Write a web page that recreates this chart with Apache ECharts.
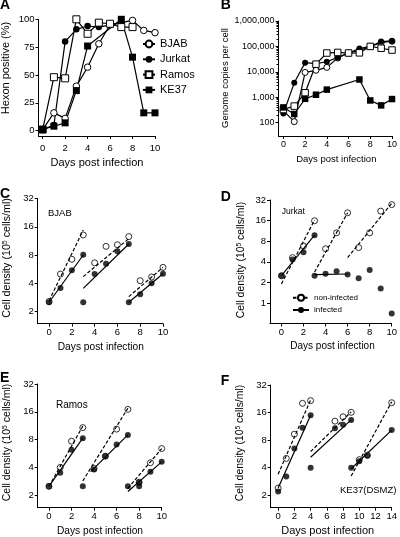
<!DOCTYPE html>
<html><head><meta charset="utf-8">
<script src="https://cdn.jsdelivr.net/npm/echarts@6/dist/echarts.min.js"></script>
<style>html,body{margin:0;padding:0;background:#fff}#c{width:400px;height:537px}</style>
</head><body><div id="c"></div>
<script>
// ---------- DATA ----------
const days = [0,1,2,3,4,5,6,7,8,9,10];
// Panel A: Hexon positive (%)
const hexonBJAB   = [1,16,11,40,57,78,95,97,99,90,88];
const hexonJurkat = [1,5,80,91,94,93,95,97,null,null,null];
const hexonRamos  = [1,48,47,100,87,97,96,93,93,null,null];
const hexonKE37   = [1,4,7,36,76,null,null,100,66,16,16];
// Panel B: Genome copies per cell
const copiesBJAB   = [300,110,9500,11500,15000,35000,55000,70000,100000,140000,160000];
const copiesJurkat = [230,3700,23000,21000,25000,37000,55000,83000,100000,155000,165000];
const copiesRamos  = [330,450,1500,20000,55000,58000,55000,56000,100000,85000,72000];
const copiesKE37   = [400,220,870,1260,2000,null,null,5000,750,480,850];
// Panels C-F: cell density [day, value]; fits [x0,y0,x1,y1]
const cOpen   = [[0,2.55],[1,5.0],[2,7.2],[3,13.1],[4,6.6],[5,9.9],[6,10.3],[7,12.6],[8,4.25],[9,4.66],[10,5.9]];
const cFilled = [[0,2.5],[1,3.55],[2,5.5],[3,8.05],[3,2.5],[4,5.0],[5,6.45],[6,8.8],[7,10.5],[7,2.5],[8,3.04],[9,4.0],[10,5.05]];
const cFitOpen   = [[0,2.6,3,14.8],[3,4.7,7,12.0],[7,2.87,10,5.9]];
const cFitFilled = [[0,2.5,3,8.0],[3,3.52,7,10.5],[7,2.5,10,5.05]];
const dOpen   = [[0,2.5],[1,4.6],[2,6.8],[3,15.9],[4,6.2],[5,10.6],[6,20.8],[7,6.45],[8,10.6],[9,22],[10,27.4]];
const dFilled = [[0,2.5],[1,4.3],[2,5.5],[3,9.8],[3,2.5],[4,2.68],[5,2.9],[6,2.6],[7,2.3],[8,3.04],[9,1.63],[10,0.7]];
const dFitOpen   = [[0,1.9,3,16.3],[3,2.83,6,20.8],[6,4.6,10,28.6]];
const dFitFilled = [[0,2.5,3,9.8],[3,2.6,6,2.65]];
const eOpen   = [[0,2.5],[1,4.0],[2,7.7],[3,10.8],[4,3.9],[5,5.3],[6,10.4],[7,17],[8,2.77],[9,4.5],[10,6.4]];
const eFilled = [[0,2.5],[1,3.5],[2,6.2],[3,8.3],[3,2.5],[4,3.8],[5,5.3],[6,7.1],[7,9.0],[7,2.5],[8,2.75],[8,2.5],[9,3.6],[10,4.6]];
const eFitOpen   = [[0,2.5,3,11.2],[3,2.86,7,17.5],[7,2.38,10,6.4]];
const eFitFilled = [[0,2.5,3,8.3],[3.7,3.6,7,9.0],[7,2.2,10,4.6]];
const fOpen   = [[0,2.4],[1,5.06],[2,9.3],[3,20.2],[4,21.6],[7,12.9],[8,14.4],[9,16.1],[10,4.9],[11,5.5],[14,20.5]];
const fFilled = [[0,2.2],[1,3.2],[2,6.5],[3,10.9],[4,15],[4,4.0],[7,10.8],[8,11.8],[9,13.3],[9,4.0],[10,4.7],[11,5.4],[14,10.3]];
const fFitOpen   = [[0,3.4,4,22],[4,6.0,9,16.3],[9,3.25,14,21]];
const fFitFilled = [[0,2.4,4,15],[4,5.2,9,13.3],[9,3.9,14,10.3]];
// Tick labels
const dayTicks10 = [0,2,4,6,8,10];
const dayTicks14 = [0,2,4,6,8,10,12,14];
const hexonTicks = [0,25,50,75,100];
const copiesMinorTicks = [200,300,400,500,600,700,800,900,2000,3000,4000,5000,6000,7000,8000,9000,
  20000,30000,40000,50000,60000,70000,80000,90000,200000,300000,400000,500000,600000,700000,800000,900000];

// ---------- BUILD ----------
const FONT = '"Liberation Sans", Arial, Helvetica, sans-serif';
const K = '#000';
const pairs = (xs, ys) => xs.map((x,i)=>[x, ys[i]]).filter(p=>p[1]!=null);
const OPEN = {color:'#fff', borderColor:K, borderWidth:1};
const FILL = {color:K, borderColor:K, borderWidth:0};

const grids = [
  {left:38.5, top:19.3, width:116.5, height:116.7},
  {left:278.5, top:21, width:116.5, height:115},
  {left:37.7, top:198.7, width:125.3, height:125},
  {left:270, top:200, width:124.3, height:123.5},
  {left:37.7, top:384, width:124, height:123.7},
  {left:270.7, top:385, width:123.6, height:122.7}
];

function xAx(gi, min, max, ticks, fs, margin){
  return {type:'value', gridIndex:gi, min, max,
    axisLine:{show:true, onZero:false, lineStyle:{color:K, width:1}},
    axisTick:{show:true, length:3, customValues:ticks, lineStyle:{color:K, width:1}},
    axisLabel:{customValues:ticks, margin: margin || 4, color:K, fontSize:fs, fontFamily:FONT},
    splitLine:{show:false}};
}
function yVal(gi, min, max, ticks, fs){
  return {type:'value', gridIndex:gi, min, max, position:'left',
    axisLine:{show:true, onZero:false, lineStyle:{color:K, width:1}},
    axisTick:{show:true, length:3, customValues:ticks, lineStyle:{color:K, width:1}},
    axisLabel:{customValues:ticks, margin:4, color:K, fontSize:fs, fontFamily:FONT},
    splitLine:{show:false}};
}
function yLog(gi, base, min, max, fs, fmt){
  return {type:'log', logBase:base, gridIndex:gi, min, max, position:'left',
    axisLine:{show:true, onZero:false, lineStyle:{color:K, width:1}},
    axisTick:{show:true, length:3, lineStyle:{color:K, width:1}},
    axisLabel:{showMinLabel:false, margin:4, color:K, fontSize:fs, fontFamily:FONT, formatter:fmt},
    splitLine:{show:false}};
}
const fmt2 = v => (v < 1 ? String(Math.round(v*10)/10) : String(Math.round(v)));
const fmt10 = v => Math.round(v).toLocaleString('en-US');

const xAxis = [
  xAx(0, -0.37, 10, dayTicks10, 9.5, 7),
  xAx(1, -0.45, 10, dayTicks10, 9),
  xAx(2, -1, 10, dayTicks10, 9.5),
  xAx(3, -1.04, 10, dayTicks10, 9.5),
  xAx(4, -1, 10, dayTicks10, 9.5),
  xAx(5, -0.92, 14, dayTicks14, 9.5)
];
const yAxis = [
  yVal(0, -4.8, 100, hexonTicks, 9.5),
  yLog(1, 10, 30, 1000000, 9, fmt10),
  yLog(2, 2, 1.474, 32, 9.5, fmt2),
  yLog(3, 2, 0.5, 32, 9.5, fmt2),
  yLog(4, 2, 1.468, 32, 9.5, fmt2),
  yLog(5, 2, 1.465, 32, 9.5, fmt2),
  // minor log ticks for panel B, placed in decade (log10) space on the same grid
  {type:'value', gridIndex:1, position:'left', offset:0, min:Math.log10(30), max:6,
   axisLine:{show:false, onZero:false}, axisLabel:{show:false, customValues:[]}, splitLine:{show:false},
   axisTick:{show:true, length:2, customValues:copiesMinorTicks.map(Math.log10), lineStyle:{color:K, width:1}}}
];

const LS = {color:K, width:1.2};
function lineSeries(name, gi, data, sym, style, size){
  return {type:'line', name, xAxisIndex:gi, yAxisIndex:gi, data, symbol:sym, symbolSize:size||6,
    showSymbol:true, itemStyle:style, lineStyle:LS, animation:false, silent:true, clip:false,
    emphasis:{disabled:true}};
}
function scatterSeries(name, gi, data, style){
  return {type:'scatter', name, xAxisIndex:gi, yAxisIndex:gi, data, symbol:'circle', symbolSize:6,
    itemStyle:style, animation:false, silent:true, clip:false, emphasis:{disabled:true}};
}
function fitSeries(names, gi, segs, dashed){
  return segs.map((s,i)=>({type:'line', name: Array.isArray(names)? names[i] : names,
    xAxisIndex:gi, yAxisIndex:gi, data:[[s[0],s[1]],[s[2],s[3]]],
    symbol:'circle', symbolSize:6, showSymbol:false,
    itemStyle: dashed ? OPEN : FILL,
    lineStyle:{color:K, width:1.2, type: dashed ? [3.5,2] : 'solid'},
    animation:false, silent:true, clip:false, emphasis:{disabled:true}}));
}

const series = [
  lineSeries('BJAB', 0, pairs(days, hexonBJAB), 'circle', OPEN, 6.5),
  lineSeries('Jurkat', 0, pairs(days, hexonJurkat), 'circle', FILL, 6.5),
  lineSeries('Ramos', 0, pairs(days, hexonRamos), 'rect', OPEN, 7),
  lineSeries('KE37', 0, pairs(days, hexonKE37), 'rect', FILL, 7),
  lineSeries('B BJAB', 1, pairs(days, copiesBJAB), 'circle', OPEN),
  lineSeries('B Jurkat', 1, pairs(days, copiesJurkat), 'circle', FILL),
  lineSeries('B Ramos', 1, pairs(days, copiesRamos), 'rect', OPEN, 6.5),
  lineSeries('B KE37', 1, pairs(days, copiesKE37), 'rect', FILL, 6.5),
  ...fitSeries('non-infected', 3, dFitOpen, true),
  ...fitSeries('infected', 3, dFitFilled, false),
  scatterSeries('D open', 3, dOpen, OPEN),
  scatterSeries('D filled', 3, dFilled, FILL),
  ...fitSeries('C fit open', 2, cFitOpen, true),
  ...fitSeries('C fit filled', 2, cFitFilled, false),
  scatterSeries('C open', 2, cOpen, OPEN),
  scatterSeries('C filled', 2, cFilled, FILL),
  ...fitSeries('E fit open', 4, eFitOpen, true),
  ...fitSeries('E fit filled', 4, eFitFilled, false),
  scatterSeries('E open', 4, eOpen, OPEN),
  scatterSeries('E filled', 4, eFilled, FILL),
  ...fitSeries('F fit open', 5, fFitOpen, true),
  ...fitSeries('F fit filled', 5, fFitFilled, false),
  scatterSeries('F open', 5, fOpen, OPEN),
  scatterSeries('F filled', 5, fFilled, FILL)
];

function txt(text, x, y, size, opts){
  opts = opts || {};
  return {type:'text', x, y, rotation: opts.rot ? Math.PI/2 : 0, silent:true,
    style:{text, fill:K, fontSize:size, fontFamily:FONT, fontWeight: opts.bold ? 'bold' : 'normal',
      align: opts.align || 'center', verticalAlign:'middle', rich: opts.rich}};
}
function cellTitle(x, y, size){
  return txt('{a|Cell density (10}{s|5}{a| cells/ml)}', x, y, size, {rot:true,
    rich:{a:{fontSize:size, fontFamily:FONT, fill:K}, s:{fontSize:size*0.65, fontFamily:FONT, fill:K, verticalAlign:'top'}}});
}
const graphic = [
  txt('A', 0, 5, 14, {bold:true, align:'left'}),
  txt('B', 220.7, 5, 14, {bold:true, align:'left'}),
  txt('C', 0, 194, 14, {bold:true, align:'left'}),
  txt('D', 220.7, 196.7, 14, {bold:true, align:'left'}),
  txt('E', 0, 378, 14, {bold:true, align:'left'}),
  txt('F', 220.7, 380.7, 14, {bold:true, align:'left'}),
  txt('Hexon positive (%)', 5.5, 68, 11, {rot:true}),
  txt('Days post infection', 97, 163.3, 11),
  txt('Genome copies per cell', 225.5, 78, 9.5, {rot:true}),
  txt('Days post infection', 336.3, 159, 9.5),
  cellTitle(6.7, 258, 10.7),
  txt('Days post infection', 100.8, 346.7, 10.2),
  cellTitle(240.8, 260, 10.4),
  txt('Days post infection', 332.5, 346.7, 10),
  cellTitle(6.7, 442.5, 10.5),
  txt('Days post infection', 100, 530.7, 10.2),
  cellTitle(240, 443, 10.4),
  txt('Days post infection', 327.7, 531, 11),
  txt('BJAB', 48, 213, 9.5, {align:'left'}),
  txt('Jurkat', 281.7, 212, 8.5, {align:'left'}),
  txt('Ramos', 56, 405.7, 10, {align:'left'}),
  txt('KE37(DSMZ)', 340, 490.7, 9.5, {align:'left'})
];

const option = {
  backgroundColor:'#fff',
  animation:false,
  grid: grids,
  xAxis, yAxis, series, graphic,
  legend:[
    {data:['BJAB','Jurkat','Ramos','KE37'], orient:'vertical', left:142, top:38.5, itemWidth:12, itemHeight:8.5,
     itemGap:4.3, padding:0, selectedMode:false, textStyle:{fontSize:11, fontFamily:FONT, color:K}},
    {data:['non-infected','infected'], orient:'vertical', left:292, top:293.7, itemWidth:16, itemHeight:7.5,
     itemGap:4.3, padding:0, selectedMode:false, textStyle:{fontSize:8, fontFamily:FONT, color:K}}
  ]
};
const chart = echarts.init(document.getElementById('c'), null, {renderer:'canvas'});
chart.setOption(option);
</script></body></html>
